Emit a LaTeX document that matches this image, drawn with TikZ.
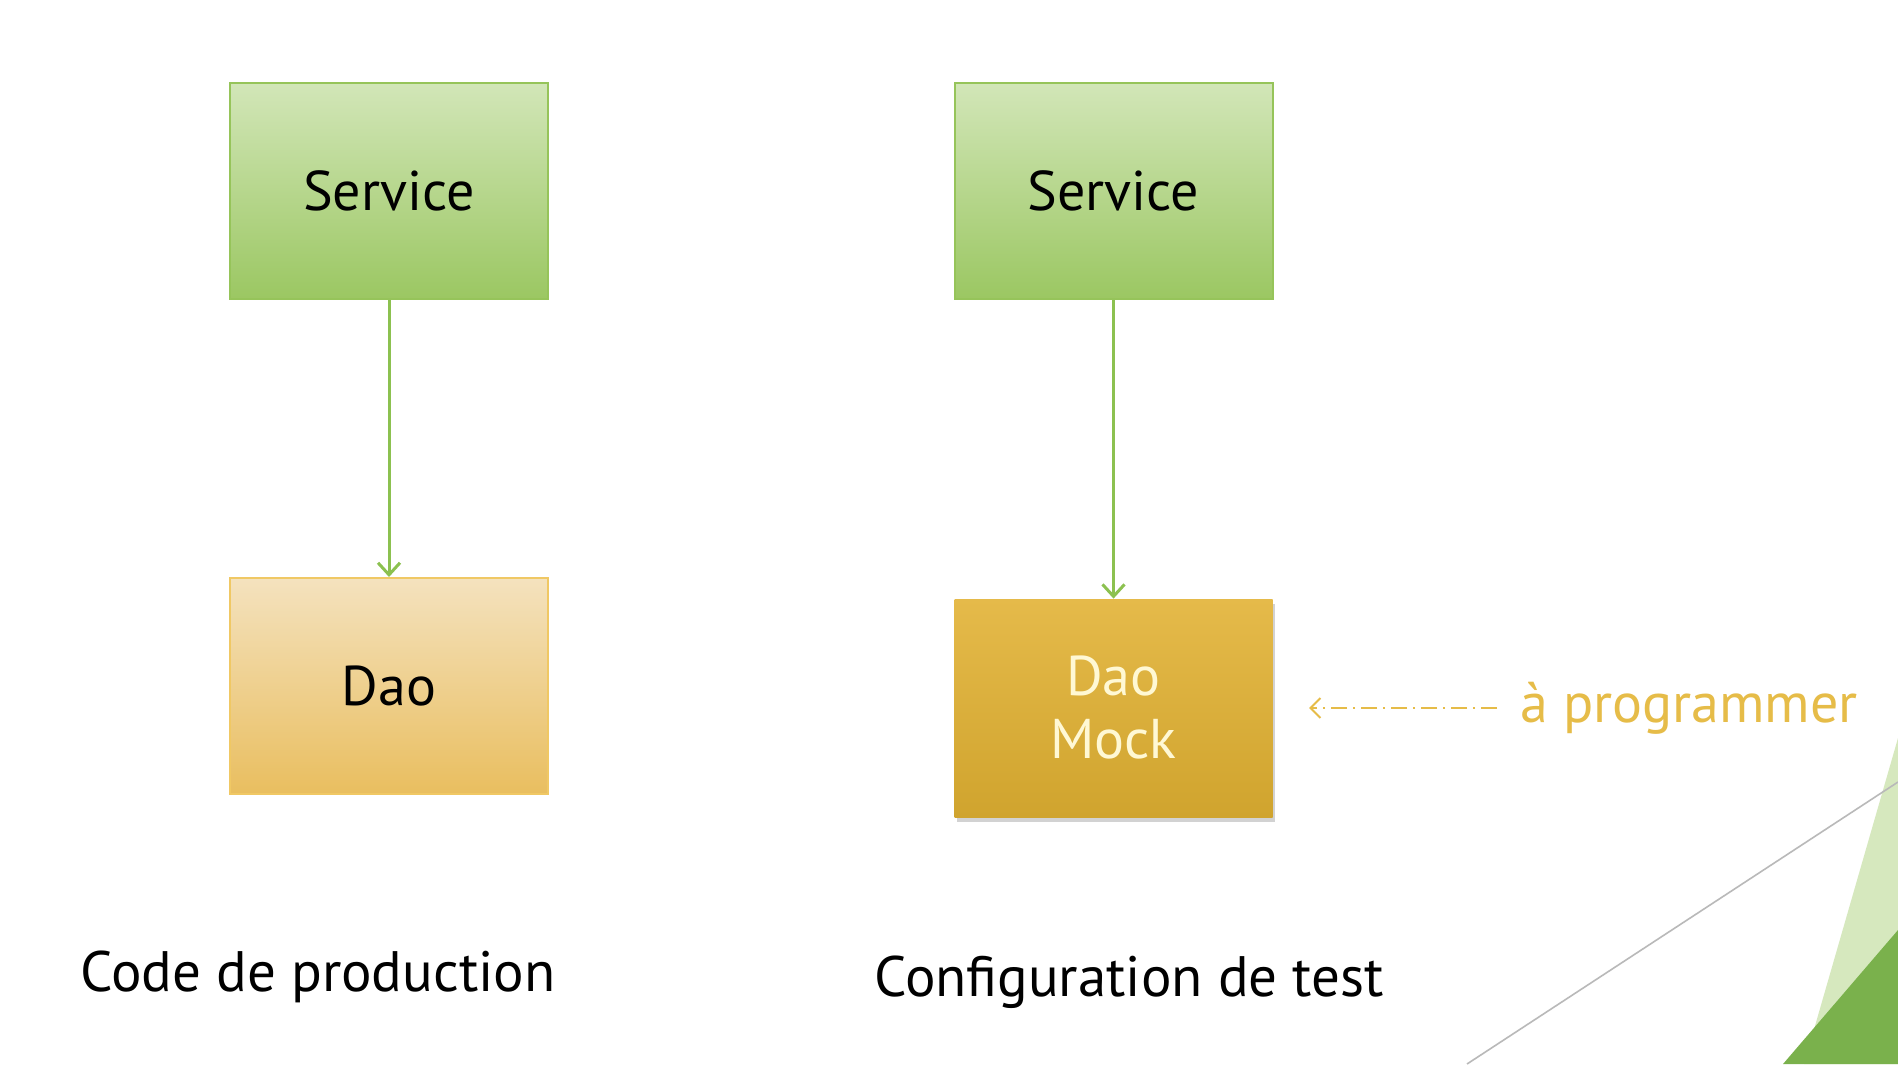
\documentclass[tikz,border=0pt]{standalone}
\usepackage{fontspec}
\setmainfont{PT Sans}
\usetikzlibrary{arrows.meta,shadows,positioning}
\definecolor{svcTop}{RGB}{210,230,184}
\definecolor{svcBot}{RGB}{155,199,98}
\definecolor{svcLine}{RGB}{150,196,90}
\definecolor{daoTop}{RGB}{244,226,190}
\definecolor{daoBot}{RGB}{233,190,95}
\definecolor{daoLine}{RGB}{240,200,100}
\definecolor{mockTop}{RGB}{229,186,74}
\definecolor{mockBot}{RGB}{208,164,46}
\definecolor{mockText}{RGB}{255,248,212}
\definecolor{arrGreen}{RGB}{140,193,80}
\definecolor{gold}{RGB}{230,188,72}
\definecolor{lightTri}{RGB}{214,232,190}
\definecolor{darkTri}{RGB}{122,177,76}
\tikzset{
  svcbox/.style={rectangle, minimum width=159pt, minimum height=108pt, top color=svcTop, bottom color=svcBot, draw=svcLine, line width=1pt, font=\fontsize{28pt}{32pt}\selectfont, text=black},
  daobox/.style={rectangle, minimum width=159pt, minimum height=108pt, top color=daoTop, bottom color=daoBot, draw=daoLine, line width=1pt, font=\fontsize{28pt}{32pt}\selectfont, text=black},
  mockbox/.style={rectangle, minimum width=159pt, minimum height=109pt, top color=mockTop, bottom color=mockBot, draw=none, font=\fontsize{28pt}{31.5pt}\selectfont, text=mockText, align=center, drop shadow={opacity=0.35, shadow xshift=1pt, shadow yshift=-2.5pt}},
  conn/.style={draw=arrGreen, line width=1.5pt, -{Straight Barb[length=6pt,width=11pt,line width=1.5pt]}},
  caption/.style={font=\fontsize{28.5pt}{32pt}\selectfont, text=black, inner sep=0pt},
}
\begin{document}
\begin{tikzpicture}[x=0.5pt,y=-0.5pt]
\useasboundingbox (0,0) rectangle (1898,1064);
\fill[white] (0,0) rectangle (1898,1064);
% decorative theme shapes
\fill[lightTri] (1898,738) -- (1804,1064) -- (1898,1064) -- cycle;
\fill[darkTri] (1898,930) -- (1783,1064) -- (1898,1064) -- cycle;
\draw[gray!55, line width=0.8pt] (1467,1064) -- (1898,782);
% nodes
\node[svcbox] (s1) at (389,191) {Service};
\node[daobox] (d1) at (389,686) {Dao};
\node[svcbox] (s2) at (1113.5,191) {Service};
\node[mockbox] (d2) at (1113.5,708) {Dao\\Mock};
\node[caption, anchor=west] (c1) at (80,977) {Code de production};
\node[caption, anchor=west] (c2) at (874,982) {Configuration de test};
\node[font=\fontsize{28pt}{32pt}\selectfont, text=gold, anchor=west, inner sep=0pt] (prog) at (1520,708) {à programmer};
\coordinate (dashend) at (1497,708);
\coordinate (dashtip) at (1309,708);
% connectors
\draw[conn] (s1) -- (d1);
\draw[conn] (s2) -- (d2);
\draw[draw=gold, line width=1pt, dash pattern=on 8pt off 3pt on 1pt off 3pt, -{Straight Barb[length=5pt,width=10pt,line width=1pt]}] (dashend) -- (dashtip);
\end{tikzpicture}
\end{document}
